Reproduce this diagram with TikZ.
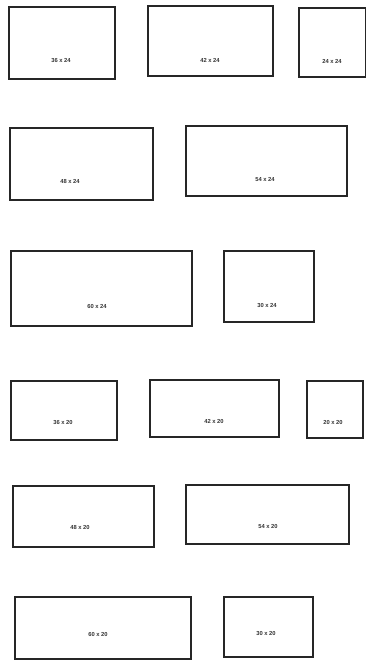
\documentclass[tikz,border=0pt]{standalone}
\usepackage{fontspec}
\setmainfont{Liberation Sans}
\begin{document}
\begin{tikzpicture}[x=1pt,y=-1pt,
  panel/.style={draw=black!85, line width=1.6pt, inner sep=0pt, anchor=north west},
  dim/.style={font=\fontsize{5.8}{7}\selectfont\bfseries, text=black!80, inner sep=0pt}]
\useasboundingbox[fill=white] (0,0) rectangle (366,666);
% row 1
\node[panel, minimum width=106pt, minimum height=72pt] (a1) at (8,6) {};
\node[dim] (l1) at (61,61) {36 x 24};
\node[panel, minimum width=125pt, minimum height=70pt] (a2) at (147,5) {};
\node[dim] (l2) at (210,60) {42 x 24};
\node[panel, minimum width=67pt, minimum height=69pt] (a3) at (298,7) {};
\node[dim] (l3) at (332,61) {24 x 24};
% row 2
\node[panel, minimum width=143pt, minimum height=72pt] (b1) at (9,127) {};
\node[dim] (m1) at (70,182) {48 x 24};
\node[panel, minimum width=161pt, minimum height=70pt] (b2) at (185,125) {};
\node[dim] (m2) at (265,180) {54 x 24};
% row 3
\node[panel, minimum width=181pt, minimum height=75pt] (c1) at (10,250) {};
\node[dim] (n1) at (97,307) {60 x 24};
\node[panel, minimum width=90pt, minimum height=71pt] (c2) at (223,250) {};
\node[dim] (n2) at (267,306) {30 x 24};
% row 4
\node[panel, minimum width=106pt, minimum height=59pt] (d1) at (10,380) {};
\node[dim] (o1) at (63,423) {36 x 20};
\node[panel, minimum width=129pt, minimum height=57pt] (d2) at (149,379) {};
\node[dim] (o2) at (214,421) {42 x 20};
\node[panel, minimum width=56pt, minimum height=57pt] (d3) at (306,380) {};
\node[dim] (o3) at (333,422) {20 x 20};
% row 5
\node[panel, minimum width=141pt, minimum height=61pt] (e1) at (12,485) {};
\node[dim] (p1) at (80,527) {48 x 20};
\node[panel, minimum width=163pt, minimum height=59pt] (e2) at (185,484) {};
\node[dim] (p2) at (268,526) {54 x 20};
% row 6
\node[panel, minimum width=176pt, minimum height=62pt] (f1) at (14,596) {};
\node[dim] (q1) at (98,634) {60 x 20};
\node[panel, minimum width=89pt, minimum height=60pt] (f2) at (223,596) {};
\node[dim] (q2) at (266,633) {30 x 20};
\end{tikzpicture}
\end{document}
